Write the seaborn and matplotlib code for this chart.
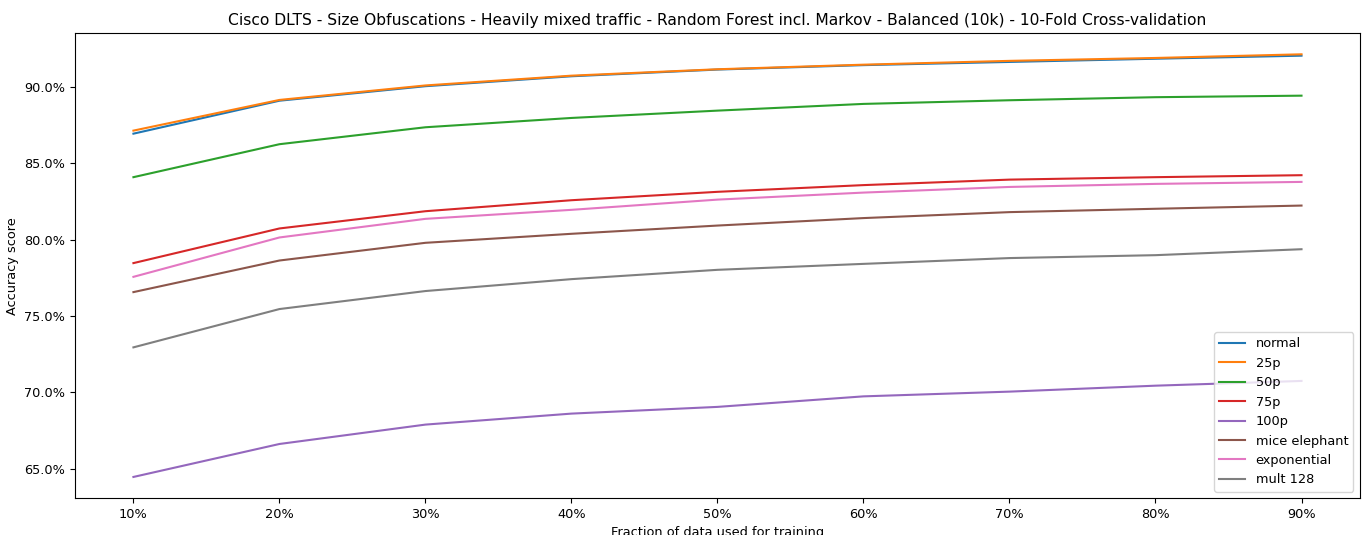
import pandas as pd
import matplotlib
matplotlib.use("Agg")
import matplotlib.pyplot as plt
from matplotlib.ticker import PercentFormatter
import seaborn as sns

# Fraction of data used for training (%)
fractions = [10, 20, 30, 40, 50, 60, 70, 80, 90]

# Accuracy scores (%)
normal = [86.94, 89.10, 90.05, 90.70, 91.14, 91.43, 91.64, 91.85, 92.05]
p25 = [87.14, 89.15, 90.10, 90.74, 91.16, 91.46, 91.71, 91.90, 92.14]
p50 = [84.09, 86.25, 87.36, 87.97, 88.45, 88.89, 89.13, 89.33, 89.43]
p75 = [78.46, 80.73, 81.86, 82.58, 83.13, 83.57, 83.93, 84.09, 84.22]
p100 = [64.45, 66.61, 67.88, 68.60, 69.04, 69.73, 70.04, 70.43, 70.74]
mice_elephant = [76.56, 78.63, 79.79, 80.38, 80.92, 81.41, 81.80, 82.02, 82.23]
exponential = [77.56, 80.14, 81.36, 81.95, 82.62, 83.08, 83.45, 83.65, 83.78]
mult_128 = [72.94, 75.45, 76.63, 77.41, 78.02, 78.41, 78.79, 78.98, 79.37]

series = {
    'normal': normal,
    '25p': p25,
    '50p': p50,
    '75p': p75,
    '100p': p100,
    'mice elephant': mice_elephant,
    'exponential': exponential,
    'mult 128': mult_128,
}

rows = []
for name, values in series.items():
    for f, v in zip(fractions, values):
        rows.append({'fraction': f, 'accuracy': v, 'obfuscation': name})
df = pd.DataFrame(rows)

plt.rcParams['font.size'] = 9.3

fig, ax = plt.subplots(figsize=(13.64, 5.35), dpi=100)
fig.subplots_adjust(left=0.055, right=0.997, top=0.938, bottom=0.069)

sns.lineplot(data=df, x='fraction', y='accuracy', hue='obfuscation',
             hue_order=list(series.keys()), palette='tab10', ax=ax)

ax.xaxis.set_major_formatter(PercentFormatter(xmax=100, decimals=0))
ax.yaxis.set_major_formatter(PercentFormatter(xmax=100, decimals=1))
ax.set_xticks(fractions)

ax.set_xlabel('Fraction of data used for training')
ax.set_ylabel('Accuracy score')
ax.set_title('Cisco DLTS - Size Obfuscations - Heavily mixed traffic - Random Forest incl. Markov - Balanced (10k) - 10-Fold Cross-validation',
             fontsize=11.2)
sns.move_legend(ax, 'lower right', title=None)

fig.savefig('out.png', dpi=100)
